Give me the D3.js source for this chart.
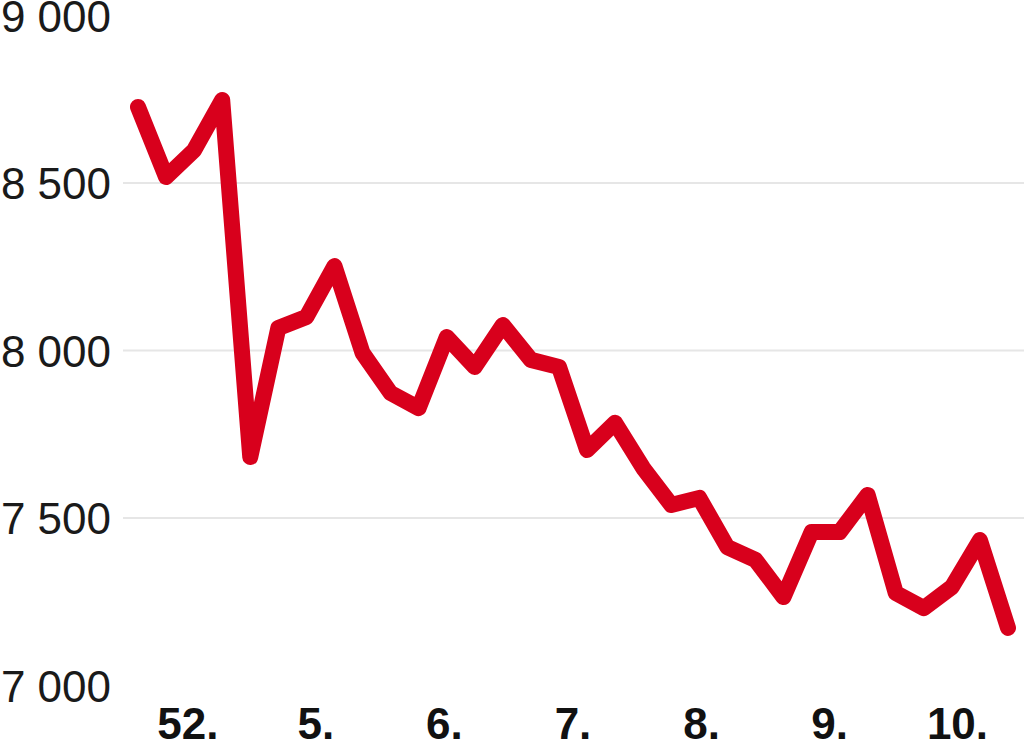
<!DOCTYPE html>
<html>
<head>
<meta charset="utf-8">
<script src="https://cdn.jsdelivr.net/npm/d3@7"></script>
<style>
  html, body { margin: 0; padding: 0; background: #fff; overflow: hidden; }
  svg { display: block; }
</style>
</head>
<body>
<svg id="chart" width="1024" height="741"></svg>
<script>
// Data (weekly values)
const values = [
  8727, 8518, 8598, 8748, 7682, 8067, 8100, 8252,
  7993, 7873, 7828, 8040, 7951, 8076, 7972, 7951,
  7703, 7784, 7649, 7539, 7560, 7413, 7375, 7264,
  7458, 7458, 7569, 7276, 7231, 7294, 7434, 7172
];
const tickLabels = ["52.", "5.", "6.", "7.", "8.", "9.", "10."];
const tickAt = [1.78, 6.34, 10.92, 15.5, 20.08, 24.64, 29.2]; // positions in data-index units
const yTicks = [7000, 7500, 8000, 8500, 9000];
const yGrid = [7500, 8000, 8500];

const svg = d3.select("#chart");
const W = 1024, H = 741;

const x = d3.scaleLinear().domain([0, values.length - 1]).range([138, 1008]);
const y = d3.scaleLinear().domain([7000, 9000]).range([685.5, 15.5]);

// gridlines
svg.append("g")
  .selectAll("line")
  .data(yGrid)
  .join("line")
  .attr("x1", 123).attr("x2", W)
  .attr("y1", d => y(d)).attr("y2", d => y(d))
  .attr("stroke", "#e6e6e6")
  .attr("stroke-width", 2);

// y labels
const fmt = d => d3.format(",")(d).replace(/,/g, "\u2009").replace(/\u2009/g, " ");
svg.append("g")
  .selectAll("text")
  .data(yTicks)
  .join("text")
  .attr("x", 111)
  .attr("y", d => y(d) + 16)
  .attr("text-anchor", "end")
  .attr("font-family", "Liberation Sans, Arial, sans-serif")
  .attr("font-size", 44)
  .attr("fill", "#1a1a1a")
  .text(d => fmt(d));

// x labels
svg.append("g")
  .selectAll("text")
  .data(tickLabels)
  .join("text")
  .attr("x", (d, i) => x(tickAt[i]))
  .attr("y", 739)
  .attr("text-anchor", "middle")
  .attr("font-family", "Liberation Sans, Arial, sans-serif")
  .attr("font-weight", "bold")
  .attr("font-size", 44)
  .attr("fill", "#111")
  .text(d => d);

// line
const line = d3.line()
  .x((d, i) => x(i))
  .y(d => y(d));

svg.append("path")
  .datum(values)
  .attr("d", line)
  .attr("fill", "none")
  .attr("stroke", "#d8001c")
  .attr("stroke-width", 16)
  .attr("stroke-linejoin", "round")
  .attr("stroke-linecap", "round");
</script>
</body>
</html>
